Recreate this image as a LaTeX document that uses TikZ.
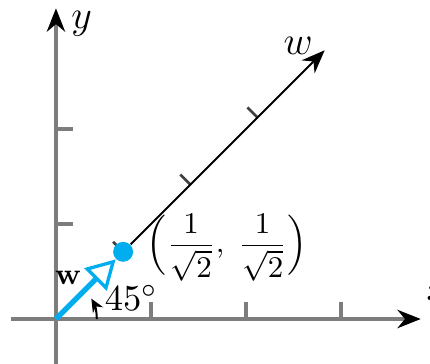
\documentclass[tikz,border=0pt]{standalone}
\usepackage{tikz}
\usepackage{xcolor}
\usetikzlibrary{arrows.meta, calc}
\definecolor{vecblue}{RGB}{0,174,239}
\definecolor{axisgray}{RGB}{125,125,125}

\begin{document}
\begin{tikzpicture}[
    axis/.style={draw=axisgray, line width=1pt, -{Stealth[length=7pt, width=5.5pt, black]}},
    tickmark/.style={draw=axisgray, line width=1pt},
    waxis/.style={draw=black, line width=0.6pt, -{Stealth[length=7pt, width=5.5pt]}},
    wtick/.style={draw=black!75, line width=0.8pt},
    vec/.style={draw=vecblue, line width=1.6pt, -{Triangle[open, length=0.3cm, width=0.33cm, line width=1pt]}},
    lbl/.style={font=\fontsize{11}{13}\selectfont, inner sep=1pt}
]
    \useasboundingbox (-0.589,-0.463) rectangle (3.937,3.358);

    % axes
    \coordinate (O) at (0,0);
    \coordinate (xstart) at (-0.47,0);
    \coordinate (xend) at (3.84,0);
    \coordinate (ystart) at (0,-0.47);
    \coordinate (yend) at (0,3.27);
    \draw[axis] (xstart) -- (xend);
    \draw[axis] (ystart) -- (yend);
    \foreach \k in {1,2,3}
        \draw[tickmark] (\k,0) -- (\k,0.18);
    \foreach \k in {1,2}
        \draw[tickmark] (0,\k) -- (0.18,\k);

    \node[lbl, anchor=west, font=\fontsize{12}{14}\selectfont] (xlab) at (3.86,0.29) {$x$};
    \node[lbl, font=\fontsize{12}{14}\selectfont] (ylab) at (0.27,3.11) {$y$};

    % rotated axis w
    \coordinate (wend) at (45:4);
    \foreach \k in {1,2,3}
        \draw[wtick] (45:\k) -- ($(45:\k)+(135:0.15)$);
    \node[circle, fill=vecblue, inner sep=0pt, minimum size=0.21cm] (pt) at (45:1) {};
    \draw[waxis] (pt) -- (wend);
    \node[lbl, font=\fontsize{11.5}{14}\selectfont] (wlab) at (2.55,2.88) {$w$};

    % unit vector and angle
    \draw[vec] (O) -- (pt);
    \draw[black, line width=0.6pt, -{Stealth[length=4pt, width=3.5pt]}] (0.43,0) arc (0:30:0.43);
    \node[lbl, font=\fontsize{9.5}{12}\selectfont] (vlab) at (0.13,0.43) {$\mathbf{w}$};
    \node[lbl] (ang) at (0.79,0.22) {$45^\circ$};
    \node[lbl, font=\fontsize{9}{11}\selectfont] (ptlab) at (1.8,0.75)
        {$\displaystyle\Bigl(\frac{1}{\sqrt{2}},\;\frac{1}{\sqrt{2}}\Bigr)$};
\end{tikzpicture}
\end{document}
